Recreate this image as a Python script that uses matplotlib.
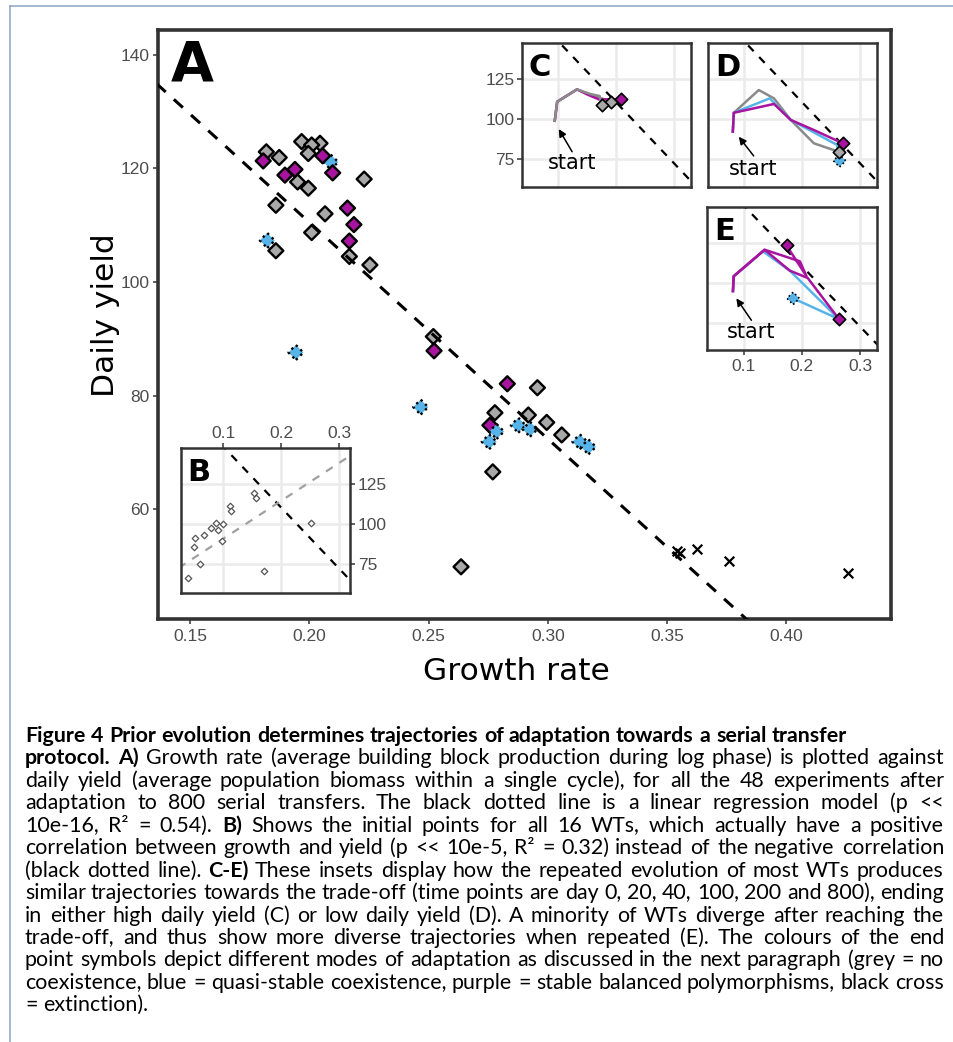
import matplotlib
matplotlib.use('Agg')
import math
import matplotlib.pyplot as plt
import numpy as np
from matplotlib.lines import Line2D
from matplotlib.font_manager import FontProperties

# ------------------------------------------------------------------ data
# Panel A: end points after 800 serial transfers
a_growth = [0.182, 0.1807, 0.1874, 0.1968, 0.2045, 0.201, 0.1996, 0.209, 0.2056, 0.2098,
            0.194, 0.1898, 0.1951, 0.1996, 0.223, 0.186, 0.216, 0.2066, 0.2187, 0.201,
            0.2168, 0.1824, 0.186, 0.2168, 0.2254, 0.1944, 0.252, 0.2523, 0.2467, 0.283,
            0.2956, 0.2778, 0.2918, 0.2757, 0.2785, 0.2754, 0.2876, 0.2925, 0.2995, 0.3058,
            0.3134, 0.317, 0.2769, 0.2636]
a_yield = [122.9, 121.3, 121.9, 124.7, 124.4, 124.1, 122.6, 121.1, 122.2, 119.2,
           119.8, 118.8, 117.6, 116.5, 118.1, 113.5, 113.0, 112.0, 110.1, 108.7,
           107.2, 107.3, 105.5, 104.5, 103.0, 87.6, 90.4, 87.9, 78.0, 82.1,
           81.4, 77.0, 76.6, 74.8, 73.7, 71.9, 74.8, 74.1, 75.3, 73.1,
           71.9, 71.0, 66.6, 49.9]
a_mode = ['grey', 'purple', 'grey', 'grey', 'grey', 'grey', 'grey', 'blue', 'purple', 'purple',
          'purple', 'purple', 'grey', 'grey', 'grey', 'grey', 'purple', 'grey', 'purple', 'grey',
          'purple', 'blue', 'grey', 'grey', 'grey', 'blue', 'grey', 'purple', 'blue', 'purple',
          'grey', 'grey', 'grey', 'purple', 'blue', 'blue', 'blue', 'blue', 'grey', 'grey',
          'blue', 'blue', 'grey', 'grey']
ext_growth = [0.354, 0.3554, 0.3626, 0.376, 0.4259]
ext_yield = [52.6, 52.3, 53.0, 51.0, 48.8]

# regression lines (yield = intercept + slope * growth)
reg_intercept, reg_slope = 186.7, -381.0
b_reg_intercept, b_reg_slope = 67.3, 236.7

# Panel B: initial points of the 16 WTs
b_growth = [0.0397, 0.0598, 0.050, 0.0512, 0.0672, 0.0783, 0.0874, 0.0914,
            0.100, 0.0972, 0.1116, 0.1127, 0.1534, 0.1563, 0.2512, 0.1707]
b_yield = [66.25, 75.0, 86.0, 91.6, 93.3, 97.5, 100.6, 96.4,
           100.0, 89.8, 111.4, 108.3, 119.4, 116.6, 100.6, 71.0]

# Panel C trajectories
c_grey1_x = [0.0936, 0.0978, 0.132, 0.155, 0.171, 0.1753]
c_grey1_y = [99.1, 111.0, 118.7, 115.8, 114.6, 108.9]
c_grey2_x = [0.0936, 0.0978, 0.132, 0.160, 0.175, 0.191]
c_grey2_y = [99.1, 111.0, 118.7, 114.8, 113.0, 111.0]
c_purple_x = [0.0936, 0.0978, 0.132, 0.150, 0.1695, 0.208]
c_purple_y = [99.1, 111.0, 118.7, 115.5, 112.5, 112.5]

# Panel D trajectories
d_grey_x = [0.0799, 0.0816, 0.1247, 0.151, 0.180, 0.220, 0.2626]
d_grey_y = [92.3, 104.1, 118.3, 113.1, 99.6, 85.0, 79.75]
d_blue_x = [0.0799, 0.0816, 0.1436, 0.180, 0.260, 0.2643]
d_blue_y = [92.3, 104.1, 113.1, 99.6, 84.0, 74.1]
d_purple_x = [0.0799, 0.0816, 0.151, 0.180, 0.220, 0.270]
d_purple_y = [92.3, 104.1, 109.6, 99.6, 93.3, 85.0]

# Panel E trajectories
e_purple1_x = [0.0816, 0.0828, 0.136, 0.1966, 0.208, 0.1736]
e_purple1_y = [94.8, 104.1, 120.8, 113.5, 104.1, 123.5]
e_purple2_x = [0.0816, 0.0828, 0.136, 0.179, 0.210, 0.2638]
e_purple2_y = [94.8, 104.1, 120.8, 107.7, 103.0, 77.1]
e_blue_x = [0.0816, 0.0828, 0.133, 0.179, 0.2638, 0.185]
e_blue_y = [94.8, 104.1, 119.8, 107.7, 77.1, 90.2]

inset_xticks = [0.1, 0.2, 0.3]
inset_yticks = [75, 100, 125]
main_xticks = [0.15, 0.20, 0.25, 0.30, 0.35, 0.40]
main_yticks = [60, 80, 100, 120, 140]

caption_lines = [
    [("Figure 4 Prior evolution determines trajectories of adaptation towards a serial transfer", True)],
    [("protocol. A)", True), (" Growth rate (average building block production during log phase) is plotted against", False)],
    [("daily yield (average population biomass within a single cycle), for all the 48 experiments after", False)],
    [("adaptation to 800 serial transfers. The black dotted line is a linear regression model (p <<", False)],
    [("10e-16, R\u00b2 = 0.54). ", False), ("B)", True), (" Shows the initial points for all 16 WTs, which actually have a positive", False)],
    [("correlation between growth and yield (p << 10e-5, R\u00b2 = 0.32) instead of the negative correlation", False)],
    [("(black dotted line). ", False), ("C-E)", True), (" These insets display how the repeated evolution of most WTs produces", False)],
    [("similar trajectories towards the trade-off (time points are day 0, 20, 40, 100, 200 and 800), ending", False)],
    [("in either high daily yield (C) or low daily yield (D). A minority of WTs diverge after reaching the", False)],
    [("trade-off, and thus show more diverse trajectories when repeated (E). The colours of the end", False)],
    [("point symbols depict different modes of adaptation as discussed in the next paragraph (grey = no", False)],
    [("coexistence, blue = quasi-stable coexistence, purple = stable balanced polymorphisms, black cross", False)],
    [("= extinction).", False)],
]
caption_justify = [False] + [True] * 11 + [False]

# ------------------------------------------------------------------ style
W, H = 954, 1042
COL = {'grey': '#A8A8A8', 'purple': '#A8149F', 'blue': '#56B4E9'}
LINECOL = {'grey': '#8A8A8A', 'purple': '#A8149F', 'blue': '#56B4E9'}
TICKFONT = 'Liberation Sans'
TICKCOL = '#4D4D4D'
SPINECOL = '#333333'

fig = plt.figure(figsize=(W / 100, H / 100), dpi=100)
fig.patch.set_facecolor('white')


def fx(px):
    return px / W


def fy(py):
    return 1 - py / H


# ------------------------------------------------------------------ main panel A
ax = fig.add_axes([fx(158), fy(619), fx(891 - 158), (619 - 30) / H])
ax.set_xlim(0.1366, 0.4438)
ax.set_ylim(40.72, 144.33)
for s in ax.spines.values():
    s.set_linewidth(2.6)
    s.set_color(SPINECOL)
ax.set_xticks(main_xticks)
ax.set_xticklabels([f"{v:.2f}" for v in main_xticks])
ax.set_yticks(main_yticks)
ax.tick_params(axis='both', length=3.5, width=1.1, color=SPINECOL, labelcolor=TICKCOL,
               labelsize=12.5)
ax.tick_params(axis='x', pad=4)
ax.tick_params(axis='y', pad=2.5)
for lab in ax.get_xticklabels() + ax.get_yticklabels():
    lab.set_fontfamily(TICKFONT)

ls_list = [':' if m == 'blue' else '-' for m in a_mode]
ax.scatter(a_growth, a_yield, marker='D', s=58, c=[COL[m] for m in a_mode],
           edgecolors='black', linewidths=1.7, linestyles=ls_list, zorder=3)
ax.scatter(ext_growth, ext_yield, marker='x', s=48, c='black', linewidths=1.6, zorder=3)
xr = np.array([0.10, 0.50])
ax.plot(xr, reg_intercept + reg_slope * xr, color='black', lw=2.2,
        dashes=(4, 3.6), zorder=4)
ax.text(0.017, 0.985, 'A', transform=ax.transAxes, ha='left', va='top',
        fontsize=40, fontweight='bold', family='DejaVu Sans', zorder=5)

fig.text(fx(516), fy(680), 'Growth rate', ha='center', va='baseline', fontsize=22.5,
         family='DejaVu Sans')
fig.text(fx(114), fy(315), 'Daily yield', ha='center', va='baseline', rotation=90,
         rotation_mode='anchor', fontsize=22.5, family='DejaVu Sans')


# ------------------------------------------------------------------ insets
def make_inset(rect, xlim, ylim):
    a = fig.add_axes(rect, zorder=10)
    a.set_facecolor('white')
    a.set_xlim(*xlim)
    a.set_ylim(*ylim)
    a.set_xticks(inset_xticks)
    a.set_yticks(inset_yticks)
    a.set_xticklabels(['0.1', '0.2', '0.3'])
    a.set_yticklabels(['75', '100', '125'])
    a.grid(True, color='#EBEBEB', lw=1.8)
    a.set_axisbelow(True)
    for s in a.spines.values():
        s.set_linewidth(1.8)
        s.set_color(SPINECOL)
    a.tick_params(axis='both', length=0, labelleft=False, labelbottom=False,
                  labelcolor=TICKCOL, labelsize=12.5, color=SPINECOL, width=1.1)
    for lab in a.get_xticklabels() + a.get_yticklabels():
        lab.set_fontfamily(TICKFONT)
    xs = np.array([0.0, 0.5])
    a.plot(xs, reg_intercept + reg_slope * xs, color='black', lw=1.6, dashes=(3.6, 3.6),
           zorder=2)
    return a


def letter(a, t):
    a.text(0.04, 0.93, t, transform=a.transAxes, ha='left', va='top', fontsize=22,
           fontweight='bold', family='DejaVu Sans', zorder=6)


def start_arrow(a, tip, tail, txt):
    a.annotate('', xy=tip, xytext=tail,
               arrowprops=dict(arrowstyle='-|>', color='black', lw=1.1, mutation_scale=11,
                               shrinkA=0, shrinkB=0), zorder=6)
    a.text(txt[0], txt[1], 'start', ha='center', va='baseline', fontsize=15,
           family='DejaVu Sans', zorder=6)


INX = (0.037, 0.329)
INY = (57.7, 147.7)

# C
axC = make_inset([fx(522), fy(187), fx(169), 144 / H], INX, INY)
axC.tick_params(axis='y', left=True, length=3.5, labelleft=True, pad=2)
for lab in axC.get_yticklabels():
    lab.set_fontfamily(TICKFONT)
axC.plot(c_grey2_x, c_grey2_y, color=LINECOL['grey'], lw=1.8, zorder=3)
axC.plot(c_purple_x, c_purple_y, color=LINECOL['purple'], lw=1.8, zorder=3)
axC.plot(c_grey1_x, c_grey1_y, color=LINECOL['grey'], lw=1.8, zorder=3)
axC.scatter([c_purple_x[-1]], [c_purple_y[-1]], marker='D', s=40, c=COL['purple'],
            edgecolors='black', linewidths=1.2, zorder=4)
axC.scatter([c_grey2_x[-1]], [c_grey2_y[-1]], marker='D', s=40, c=COL['grey'],
            edgecolors='black', linewidths=1.2, zorder=4)
axC.scatter([c_grey1_x[-1]], [c_grey1_y[-1]], marker='D', s=40, c=COL['grey'],
            edgecolors='black', linewidths=1.2, zorder=4)
start_arrow(axC, (0.1005, 93.9), (0.1236, 79.75), (0.1236, 68.9))
letter(axC, 'C')

# D
axD = make_inset([fx(708), fy(187), fx(169), 144 / H], INX, INY)
axD.plot(d_grey_x, d_grey_y, color=LINECOL['grey'], lw=1.8, zorder=3)
axD.plot(d_blue_x, d_blue_y, color=LINECOL['blue'], lw=1.8, zorder=3)
axD.plot(d_purple_x, d_purple_y, color=LINECOL['purple'], lw=1.8, zorder=3)
axD.scatter([d_purple_x[-1]], [d_purple_y[-1]], marker='D', s=40, c=COL['purple'],
            edgecolors='black', linewidths=1.2, zorder=4)
axD.scatter([d_blue_x[-1]], [d_blue_y[-1]], marker='D', s=40, c=COL['blue'],
            edgecolors='black', linewidths=1.2, linestyles=':', zorder=4)
axD.scatter([d_grey_x[-1]], [d_grey_y[-1]], marker='D', s=40, c=COL['grey'],
            edgecolors='black', linewidths=1.2, zorder=4)
start_arrow(axD, (0.0902, 89.1), (0.116, 77.1), (0.1147, 65.2))
letter(axD, 'D')

# E
axE = make_inset([fx(707), fy(350), fx(170), 143 / H], INX, INY)
axE.tick_params(axis='x', bottom=True, length=3.5, labelbottom=True, pad=3)
for lab in axE.get_xticklabels():
    lab.set_fontfamily(TICKFONT)
axE.plot(e_blue_x, e_blue_y, color=LINECOL['blue'], lw=1.8, zorder=3)
axE.plot(e_purple2_x, e_purple2_y, color=LINECOL['purple'], lw=1.8, zorder=3)
axE.plot(e_purple1_x, e_purple1_y, color=LINECOL['purple'], lw=1.8, zorder=3)
axE.scatter([e_blue_x[-1]], [e_blue_y[-1]], marker='D', s=40, c=COL['blue'],
            edgecolors='black', linewidths=1.2, linestyles=':', zorder=4)
axE.scatter([e_purple1_x[-1], e_purple2_x[-1]], [e_purple1_y[-1], e_purple2_y[-1]],
            marker='D', s=40, c=COL['purple'], edgecolors='black', linewidths=1.2, zorder=4)
start_arrow(axE, (0.0874, 90.2), (0.1133, 76.4), (0.1133, 65.2))
letter(axE, 'E')

# B
axB = make_inset([fx(180.7), fy(592.7), fx(169.3), 144.4 / H], (0.0266, 0.319), (57.25, 147.5))
axB.tick_params(axis='x', top=True, bottom=False, length=3.5, labeltop=True,
                labelbottom=False, pad=2)
axB.tick_params(axis='y', right=True, left=False, length=3.5, labelright=True,
                labelleft=False, pad=2)
for lab in axB.get_xticklabels() + axB.get_yticklabels():
    lab.set_fontfamily(TICKFONT)
xb = np.array([0.0, 0.5])
axB.plot(xb, b_reg_intercept + b_reg_slope * xb, color='#A0A0A0', lw=1.6,
         dashes=(3.6, 3.6), zorder=2)
axB.scatter(b_growth, b_yield, marker='D', s=11, facecolors='white',
            edgecolors='#555555', linewidths=0.9, zorder=4)
letter(axB, 'B')

# ------------------------------------------------------------------ page frame
FRAME = '#8DA3C6'
fig.add_artist(Line2D([fx(10.5), 1.0], [fy(5.5), fy(5.5)], color=FRAME, lw=1.1))
fig.add_artist(Line2D([fx(10.5), fx(10.5)], [fy(5.5), 0.0], color=FRAME, lw=1.1))

# ------------------------------------------------------------------ caption (justified, word by word)
CAP_FONT = 'Lato'
fig.canvas.draw()
renderer = fig.canvas.get_renderer()


def tw(s, bold, fs):
    t = fig.text(0, 0, s, fontsize=fs, family=CAP_FONT,
                 fontweight='bold' if bold else 'normal')
    w = t.get_window_extent(renderer).width
    t.remove()
    return w


def baseline_fix(s, bold, fs):
    # compensate the per-string pixel rounding of the Agg text bitmap
    prop = FontProperties(family=CAP_FONT, size=fs, weight='bold' if bold else 'normal')
    _, h, d = renderer.get_text_width_height_descent(s, prop, ismath=False)
    return -d + math.floor(h) - math.floor(h - d)


def tokenize(segs):
    tokens = []
    prev_space = True
    for txt, bold in segs:
        parts = txt.split(' ')
        for j, p in enumerate(parts):
            if p == '':
                continue
            if j == 0 and tokens and not prev_space:
                tokens[-1].append((p, bold))
            else:
                tokens.append([(p, bold)])
        prev_space = txt.endswith(' ')
    return tokens


LEFT, RIGHT = 25.0, 944.0
Y0, DY = 742, 22.45
tokenized = [tokenize(s) for s in caption_lines]

FS0 = 13.0
maxw = 0.0
for segs, just in zip(caption_lines, caption_justify):
    if just:
        maxw = max(maxw, sum(tw(t, b, FS0) for t, b in segs))
CAP_FS = FS0 * (RIGHT - LEFT - 3) / maxw
space_w = tw('x x', False, CAP_FS) - tw('xx', False, CAP_FS)

for i, (toks, just) in enumerate(zip(tokenized, caption_justify)):
    widths = [[tw(p, b, CAP_FS) for p, b in tok] for tok in toks]
    total = sum(sum(w) for w in widths)
    if just and len(toks) > 1:
        gap = (RIGHT - LEFT - total) / (len(toks) - 1)
    else:
        gap = space_w
    x = LEFT
    ypx = round(Y0 + i * DY)
    for tok, ws in zip(toks, widths):
        for (p, b), w in zip(tok, ws):
            yy = ypx + baseline_fix(p, b, CAP_FS)
            fig.text(fx(round(x)), fy(yy), p, fontsize=CAP_FS, family=CAP_FONT,
                     fontweight='bold' if b else 'normal', ha='left', va='baseline')
            x += w
        x += gap

fig.savefig('out.png', dpi=100, facecolor='white')
